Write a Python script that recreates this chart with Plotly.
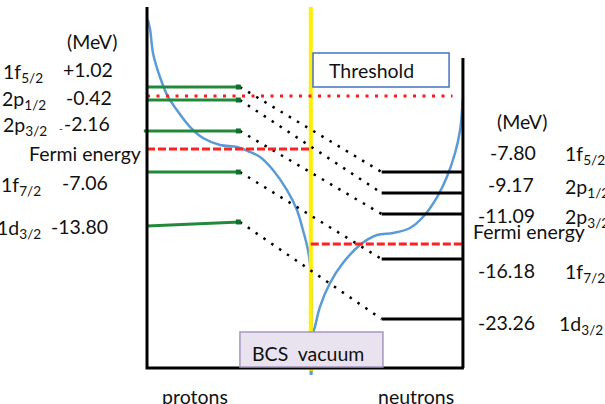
import plotly.graph_objects as go

W, H = 605, 404
FONT = "Lato"
FS = 19.5

# ---------------- data ----------------
level_names = ["1f<sub>5/2</sub>", "2p<sub>1/2</sub>", "2p<sub>3/2</sub>",
               "1f<sub>7/2</sub>", "1d<sub>3/2</sub>"]
proton_energy = [1.02, -0.42, -2.16, -7.06, -13.80]      # MeV (labels)
neutron_energy = [-7.80, -9.17, -11.09, -16.18, -23.26]  # MeV (labels)

# heights at which the levels are drawn in the schematic (MeV scale)
proton_level_left = [0.94, -0.42, -3.66, -7.96, -13.61]
proton_level_right = [0.94, -0.42, -3.66, -7.96, -13.19]
neutron_level = [-7.96, -10.16, -12.36, -17.07, -23.35]

threshold = 0.0
fermi_proton = -5.55
fermi_neutron = -15.50

# potential-well curves (x: proton wall = 0, neutron wall = 10)
proton_well_x = [0.03, 0.10, 0.19, 0.41, 0.67, 0.95, 1.37, 1.78, 2.32, 2.86,
                 3.27, 3.59, 4.00, 4.44, 4.76, 4.95, 5.11, 5.20, 5.20]
proton_well_y = [7.96, 6.91, 4.50, 1.99, -0.10, -1.47, -3.25, -4.40, -5.13, -5.34,
                 -5.86, -6.39, -7.75, -9.84, -11.94, -14.03, -16.13, -18.5, -29.2]
neutron_well_x = [5.22, 5.27, 5.33, 5.49, 5.81, 6.22, 6.76, 7.30, 7.81, 8.35,
                  8.76, 9.21, 9.52, 9.78, 9.94, 10.03]
neutron_well_y = [-29.2, -24.82, -24.19, -22.09, -19.58, -17.49, -15.60, -14.55,
                  -14.35, -13.82, -12.67, -10.58, -8.48, -5.97, -3.56, -0.10]

# ---------------- diagram geometry (layout) ----------------
P_WALL, N_WALL, MID = 0.0, 10.03, 5.2
P_END, N_START = 2.95, 7.45
WALL_TOP_P, WALL_TOP_N, FLOOR = 9.32, 3.98, -28.48
X_RANGE = [-4.667, 14.540]
Y_RANGE = [-32.25, 10.052]

fig = go.Figure()


def line(xs, ys, color, width, dash="solid", shape="linear"):
    fig.add_trace(go.Scatter(x=xs, y=ys, mode="lines", hoverinfo="skip",
                             showlegend=False,
                             line=dict(color=color, width=width, dash=dash,
                                       shape=shape)))


# blue potential curves
line(proton_well_x, proton_well_y, "#5B9BD5", 2.5, shape="spline")
line(neutron_well_x, neutron_well_y, "#5B9BD5", 2.5, shape="spline")

# yellow separator
line([MID, MID], [WALL_TOP_P, -28.8], "#FFEE00", 4)

# dotted connectors proton level -> neutron level
cx, cy = [], []
for yp, yn in zip(proton_level_right, neutron_level):
    cx += [P_END, N_START, None]
    cy += [yp, yn, None]
line(cx, cy, "#000000", 2.5, dash="2.5px,7px")

# threshold (red dotted)
line([P_WALL, 9.7], [threshold, threshold], "#FF1A1A", 3, dash="3px,6.5px")
# Fermi energies (red dashed)
line([P_WALL, MID], [fermi_proton, fermi_proton], "#FF2020", 3, dash="8px,3px")
line([MID, N_WALL], [fermi_neutron, fermi_neutron], "#FF2020", 3, dash="8px,3px")

# proton levels (green)
starts = [P_WALL, P_WALL, -0.1, P_WALL, P_WALL]
gx, gy = [], []
for s, yl, yr in zip(starts, proton_level_left, proton_level_right):
    gx += [s, P_END, None]
    gy += [yl, yr, None]
line(gx, gy, "#23893A", 3)
fig.add_trace(go.Scatter(x=[P_END - 0.05] * len(proton_level_right), y=proton_level_right,
                         mode="markers", hoverinfo="skip", showlegend=False,
                         marker=dict(symbol="square", size=5, color="#12702E",
                                     line=dict(width=0))))

# neutron levels (black)
nx, ny = [], []
for yn in neutron_level:
    nx += [N_START, N_WALL, None]
    ny += [yn, yn, None]
line(nx, ny, "#000000", 3)

# walls
line([P_WALL, P_WALL, N_WALL + 0.03], [WALL_TOP_P, FLOOR, FLOOR], "#000000", 3)
line([N_WALL, N_WALL], [WALL_TOP_N, FLOOR], "#000000", 3)

# boxes
fig.add_shape(type="rect", xref="x", yref="y", x0=5.27, x1=9.59, y0=0.94, y1=4.50,
              line=dict(color="#4472C4", width=1.5), fillcolor="white", layer="above")
fig.add_shape(type="rect", xref="x", yref="y", x0=2.95, x1=7.49, y0=-28.38, y1=-24.72,
              line=dict(color="#A596BE", width=1.5), fillcolor="#E9E3F0", layer="above")


# ---------------- text ----------------
def ann(text, px, py, xanchor="left", size=FS):
    fig.add_annotation(text=text, x=px / W, y=1 - py / H, xref="paper", yref="paper",
                       xanchor=xanchor, yanchor="middle", showarrow=False,
                       font=dict(family=FONT, size=size, color="#111111"))


ann("Threshold", 327, 71)
ann("BCS  vacuum", 250, 353)
ann("protons", 195, 396, xanchor="center")
ann("neutrons", 416, 396, xanchor="center")

# left column (protons)
ann("(MeV)", 65, 42)
left_name_right = [45, 48, 49, 43, 43]
left_val_right = [115, 114, 112, 110, 110]
left_y = [70, 97, 123, 183, 226]
for name, e, xr, xv, y in zip(level_names, proton_energy, left_name_right,
                              left_val_right, left_y):
    ann(name, xr, y + 3, xanchor="right")
    ann(f"{e:+.2f}", xv, y, xanchor="right")
ann("-", 57, 128, size=10)
ann("Fermi energy", 27, 153)

# right column (neutrons)
ann("(MeV)", 495, 121)
right_val_right = [538, 536, 537, 537, 537]
right_name_left = [563, 563, 563, 563, 557]
right_y = [152, 185, 215, 270, 322]
for name, e, xv, xn, y in zip(level_names, neutron_energy, right_val_right,
                              right_name_left, right_y):
    ann(f"{e:.2f}", xv, y, xanchor="right")
    ann(name, xn, y + 3)
ann("Fermi energy", 471, 232)

fig.update_layout(
    width=W, height=H, margin=dict(l=0, r=0, t=0, b=0),
    paper_bgcolor="white", plot_bgcolor="white",
    xaxis=dict(range=X_RANGE, visible=False, fixedrange=True),
    yaxis=dict(range=Y_RANGE, visible=False, fixedrange=True),
)

fig.write_html("out.html", config={"displayModeBar": False},
               post_script="document.body.style.margin='0';"
                           "document.body.style.overflow='hidden';")
